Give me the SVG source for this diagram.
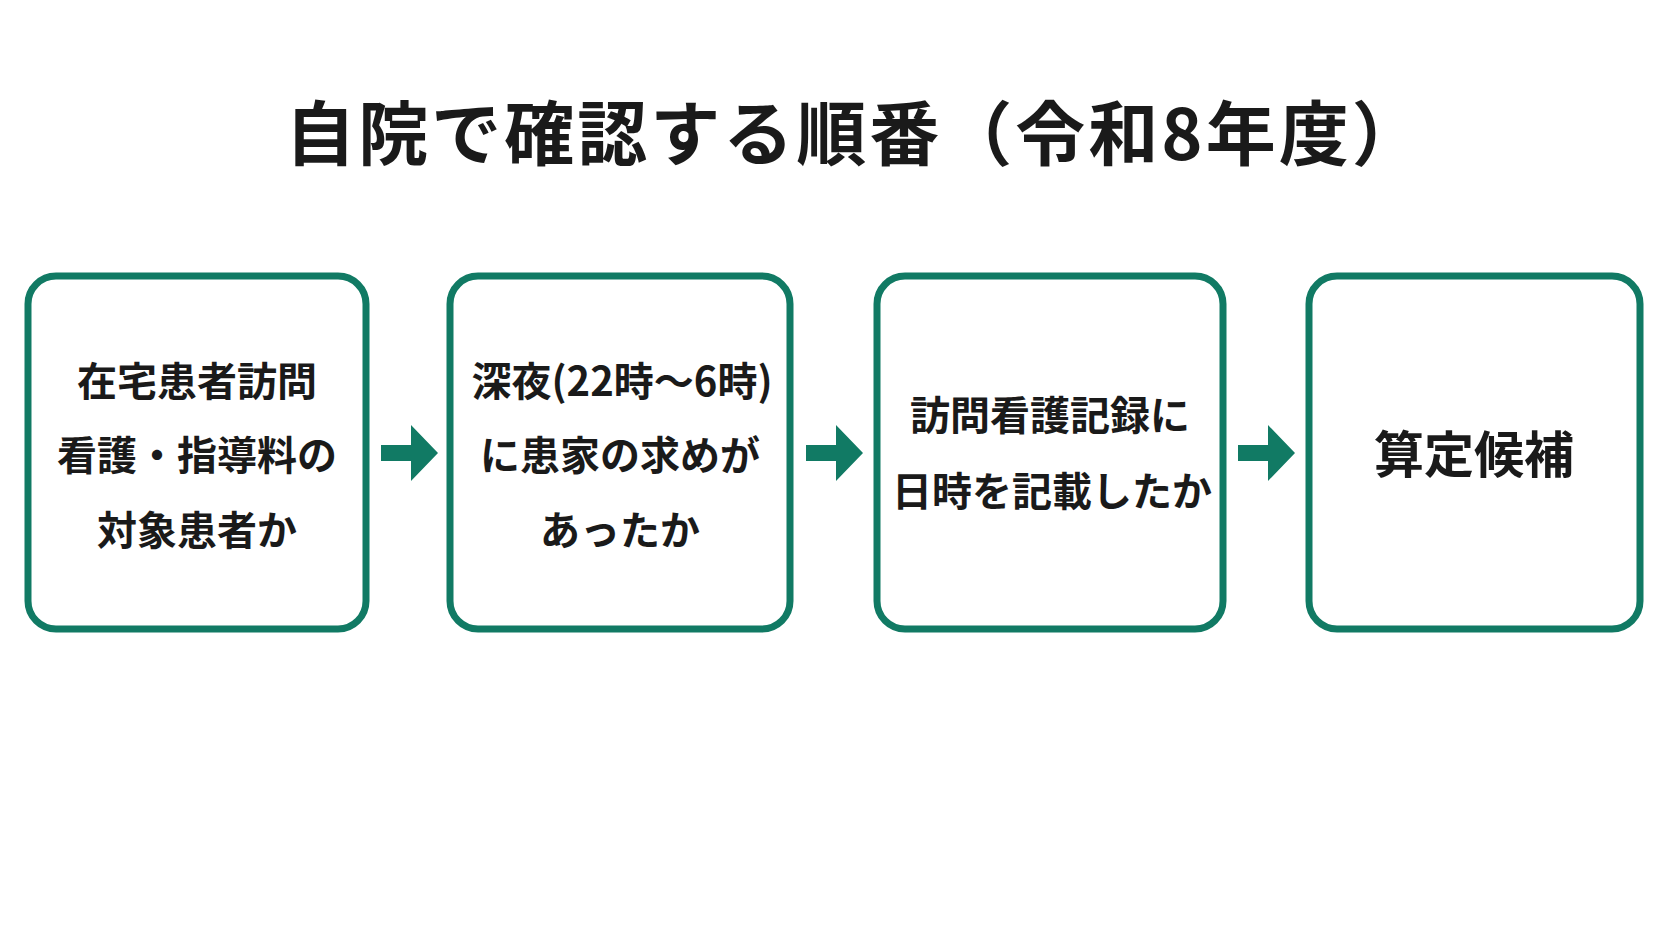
<svg xmlns="http://www.w3.org/2000/svg" width="1672" height="941" viewBox="0 0 1672 941">
<style>
.box{fill:#fff;stroke:#117a64;stroke-width:7}
.t{font-family:"Noto Sans CJK JP","Noto Sans",sans-serif;font-weight:700;fill:#1a1a1a;text-anchor:middle}
.b{font-size:40px}
.arr{fill:#117a64}
</style>
<rect width="1672" height="941" fill="#fff"/>
<text class="t" x="855" y="160" font-size="70" letter-spacing="3">自院で確認する順番（令和8年度）</text>
<g id="connectors">
<path class="arr" d="M381 445h30v-20l27 28-27 28v-20h-30z"/>
<path class="arr" d="M806 445h30v-20l27 28-27 28v-20h-30z"/>
<path class="arr" d="M1238 445h30v-20l27 28-27 28v-20h-30z"/>
</g>
<g id="n1"><rect class="box" x="28" y="276" width="338" height="353" rx="28"/>
<text class="t b" x="197" y="396">在宅患者訪問</text>
<text class="t b" x="197" y="470" font-size="38">看護・指導料の</text>
<text class="t b" x="197" y="545">対象患者か</text></g>
<g id="n2"><rect class="box" x="450" y="276" width="340" height="353" rx="28"/>
<text class="t b" x="622" y="396" font-size="39">深夜(22時～6時)</text>
<text class="t b" x="620" y="470">に患家の求めが</text>
<text class="t b" x="620" y="545">あったか</text></g>
<g id="n3"><rect class="box" x="877" y="276" width="346" height="353" rx="28"/>
<text class="t b" x="1050" y="430">訪問看護記録に</text>
<text class="t b" x="1052" y="506" font-size="38">日時を記載したか</text></g>
<g id="n4"><rect class="box" x="1309" y="276" width="331" height="353" rx="28"/>
<text class="t" x="1474" y="473" font-size="50">算定候補</text></g>
</svg>
